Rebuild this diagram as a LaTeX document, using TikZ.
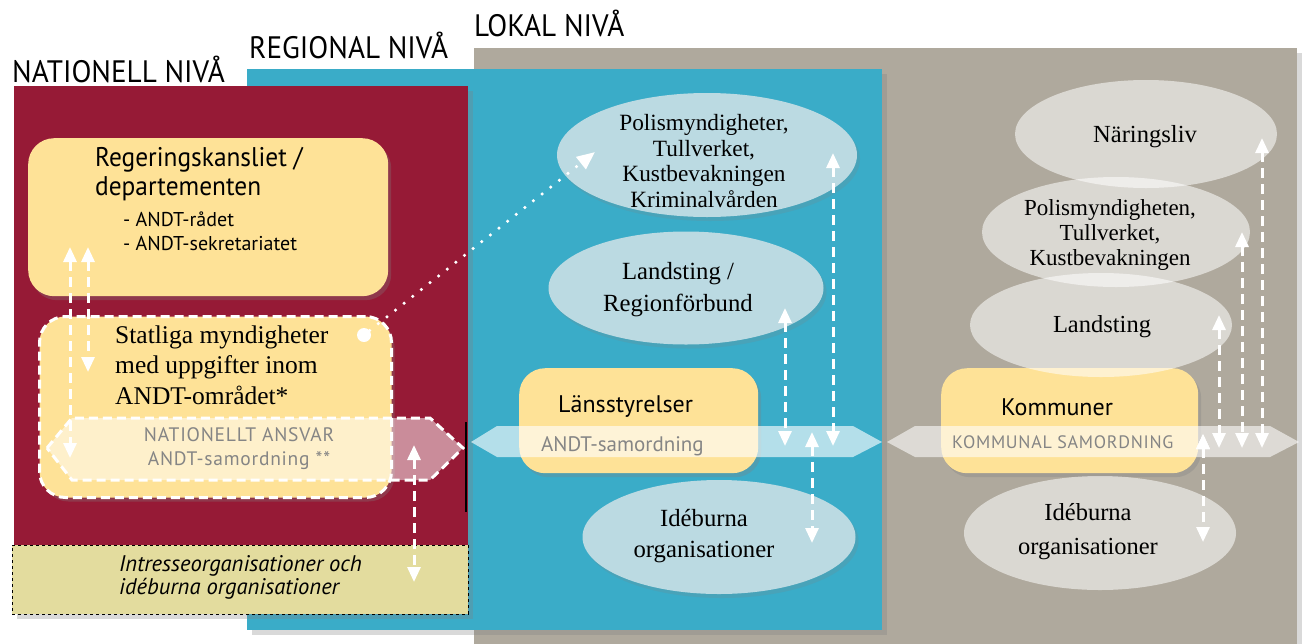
\documentclass[tikz,border=0pt]{standalone}
\usepackage{fontspec}
\setmainfont{Liberation Serif}
\newfontfamily\narrowsans[FakeStretch=0.94]{PT Sans}
\newfontfamily\plainsans{PT Sans}
\newfontfamily\widesans[LetterSpace=4.0]{PT Sans}
\usepackage{tikz}
\usetikzlibrary{shapes.geometric, shadows, arrows.meta}

\definecolor{natred}{HTML}{961A36}
\definecolor{regblue}{HTML}{3AACC8}
\definecolor{lokgray}{HTML}{AFA99D}
\definecolor{boxyellow}{HTML}{FEE297}
\definecolor{khaki}{HTML}{E3DC9E}
\definecolor{bubbleblue}{HTML}{BBDAE2}
\definecolor{bandtext}{HTML}{858585}

\newcommand{\fsz}[2]{\fontsize{#1}{#2}\selectfont}

\begin{document}
\begin{tikzpicture}[x=1pt, y=-1pt,
                    >={Triangle[width=13pt,length=15pt]},
                    panel/.style={anchor=north west, inner sep=0pt,
                        drop shadow={shadow xshift=5pt, shadow yshift=-5pt, opacity=.3}},
                    yellowbox/.style={anchor=north west, inner sep=0pt, fill=boxyellow,
                        rounded corners=26pt,
                        drop shadow={shadow xshift=3pt, shadow yshift=-4pt, opacity=.3}},
                    whitedash/.style={draw=white, line width=3pt, dash pattern=on 9pt off 5pt},
                    bubble/.style={ellipse, inner sep=0pt, fill=bubbleblue,
                        drop shadow={shadow xshift=3pt, shadow yshift=-4pt, opacity=.2}},
                    greybubble/.style={ellipse, inner sep=0pt, fill=white, fill opacity=.55},
                    level/.style={anchor=base west, inner sep=0pt, font=\narrowsans\fsz{31}{31}},
                    bubbletext/.style={inner sep=0pt, align=center},
                    link/.style={<->, white, line width=3pt, dash pattern=on 10pt off 6pt}]

	\useasboundingbox (0,0) rectangle (1308,643);

	% levels
	\node[panel, fill=lokgray, minimum width=823pt, minimum height=600pt] (lokal) at (474,48) {};
	\node[panel, fill=regblue, minimum width=635pt, minimum height=561pt] (regional) at (247,69) {};
	\node[panel, fill=natred, minimum width=454pt, minimum height=459pt] (nationell) at (14,86) {};
	\node[panel, fill=khaki, draw=black, dashed, minimum width=456pt, minimum height=69pt] (intresse) at (12,545) {};

	\node[level] (natTitle) at (12,82) {NATIONELL NIVÅ};
	\node[level] (regTitle) at (249,58) {REGIONAL NIVÅ};
	\node[level] (lokTitle) at (474,36) {LOKAL NIVÅ};

	% nationell
	\node[yellowbox, minimum width=360pt, minimum height=158pt] (regk) at (28,138) {};
	\node[anchor=base west, inner sep=0pt, align=left, font=\narrowsans\fsz{27}{29}] (regkTxt) at (95,195)
		{Regeringskansliet /\\departementen};
	\node[anchor=base west, inner sep=0pt, align=left, font=\plainsans\fsz{20}{24}] (regkList) at (123,250)
		{- ANDT-rådet\\- ANDT-sekretariatet};

	\node[yellowbox, whitedash, minimum width=352pt, minimum height=181pt] (statl) at (38,315) {};
	\node[anchor=base west, inner sep=0pt, align=left, font=\fsz{25.5}{30.5}] (statlTxt) at (115,404)
		{Statliga myndigheter\\med uppgifter inom\\ANDT-området*};

	\filldraw[fill=white, fill opacity=.5, whitedash]
		(47,448) -- (72,418) -- (430,418) -- (463,448) -- (430,480) -- (72,480) -- cycle;
	\node[bubbletext, text=bandtext, font=\widesans\fsz{19.5}{24}] (natBandTxt) at (239,449)
		{NATIONELLT ANSVAR\\ANDT-samordning **};
	\draw[black, line width=1.5pt] (466,422) -- (466,512);

	\node[anchor=base west, inner sep=0pt, align=left, font=\plainsans\itshape\fsz{22.6}{23}] (intrTxt) at (119,594)
		{Intresseorganisationer och\\idéburna organisationer};

	% regional
	\node[yellowbox, minimum width=239pt, minimum height=105pt] (lans) at (519,368) {};
	\node[bubble, minimum width=300pt, minimum height=124pt] (polis) at (707,155) {};
	\node[bubble, minimum width=275pt, minimum height=113pt] (landsting) at (686,288) {};
	\node[bubble, minimum width=273pt, minimum height=114pt] (ideReg) at (719,537) {};

	\node[bubbletext, font=\fsz{23.3}{25.7}] (polisTxt) at (704,161)
		{Polismyndigheter,\\Tullverket,\\Kustbevakningen\\Kriminalvården};
	\node[bubbletext, font=\fsz{24.7}{32}] (landstingTxt) at (678,290) {Landsting /\\Regionförbund};
	\node[bubbletext, font=\fsz{24.7}{31}] (ideRegTxt) at (704,536) {Idéburna\\organisationer};

	\fill[white, fill opacity=.62] (471,442) -- (497,426) -- (853,426) -- (882,442) -- (853,457) -- (497,457) -- cycle;
	\node[anchor=base west, inner sep=0pt, font=\plainsans\fsz{24}{24}] (lansTxt) at (558,412) {Länsstyrelser};
	\node[anchor=base west, inner sep=0pt, text=bandtext, font=\plainsans\fsz{21}{21}] (lansBand) at (541,451) {ANDT-samordning};

	% lokal
	\node[yellowbox, minimum width=257pt, minimum height=105pt] (kommun) at (941,368) {};
	\node[greybubble, minimum width=262pt, minimum height=108pt] (naring) at (1146,134) {};
	\node[greybubble, minimum width=268pt, minimum height=110pt] (polisLok) at (1116,232) {};
	\node[greybubble, minimum width=262pt, minimum height=104pt] (landstingLok) at (1101,325) {};
	\node[greybubble, minimum width=272pt, minimum height=114pt] (ideLok) at (1100,533) {};

	\node[bubbletext, font=\fsz{24.6}{26}] (naringTxt) at (1145,137) {Näringsliv};
	\node[bubbletext, font=\fsz{23}{25}] (polisLokTxt) at (1110,235) {Polismyndigheten,\\Tullverket,\\Kustbevakningen};
	\node[bubbletext, font=\fsz{24.5}{26}] (landstingLokTxt) at (1102,327) {Landsting};
	\node[bubbletext, font=\fsz{24.5}{34}] (ideLokTxt) at (1088,532) {Idéburna\\organisationer};

	\fill[white, fill opacity=.58] (887,442) -- (915,426) -- (1270,426) -- (1299,442) -- (1270,457) -- (915,457) -- cycle;
	\node[anchor=base west, inner sep=0pt, font=\plainsans\fsz{24}{24}] (kommunTxt) at (1001,415) {Kommuner};
	\node[anchor=base west, inner sep=0pt, text=bandtext, font=\widesans\fsz{18}{18}] (kommunBand) at (952,448) {KOMMUNAL SAMORDNING};

	% samverkan
	\node[circle, fill=white, minimum size=14pt, inner sep=0pt] (dot) at (364,335) {};
	\coordinate (polisIn) at (595,152);
	\draw[white, line width=3.5pt, line cap=round, dash pattern=on 0pt off 11pt,
	      -{Triangle[width=15pt,length=18pt]}] (dot) -- (polisIn);

	\coordinate (n1a) at (70,247);   \coordinate (n1b) at (70,458);
	\coordinate (n2a) at (88,247);   \coordinate (n2b) at (88,372);
	\coordinate (n3a) at (414,445);  \coordinate (n3b) at (414,582);
	\coordinate (r1a) at (785,308);  \coordinate (r1b) at (785,446);
	\coordinate (r2a) at (833,153);  \coordinate (r2b) at (833,446);
	\coordinate (r3a) at (812,432);  \coordinate (r3b) at (812,543);
	\coordinate (k1a) at (1219,315); \coordinate (k1b) at (1219,448);
	\coordinate (k2a) at (1242,232); \coordinate (k2b) at (1242,448);
	\coordinate (k3a) at (1262,138); \coordinate (k3b) at (1262,448);
	\coordinate (k4a) at (1203,434); \coordinate (k4b) at (1203,542);
	\draw[link] (n1a) edge (n1b)
	            (n2a) edge (n2b)
	            (n3a) edge (n3b)
	            (r1a) edge (r1b)
	            (r2a) edge (r2b)
	            (r3a) edge (r3b)
	            (k1a) edge (k1b)
	            (k2a) edge (k2b)
	            (k3a) edge (k3b)
	            (k4a) edge (k4b)
	;
\end{tikzpicture}
\end{document}
